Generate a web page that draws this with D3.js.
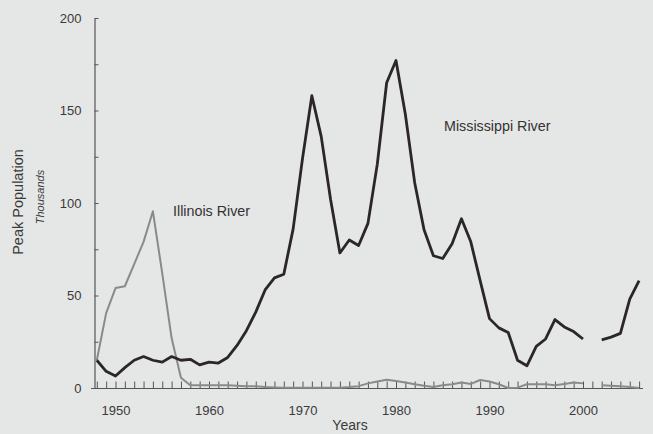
<!DOCTYPE html>
<html>
<head>
<meta charset="utf-8">
<script src="https://cdn.jsdelivr.net/npm/d3@7"></script>
<style>
  html, body { margin: 0; padding: 0; background: #e5e6e6; }
  svg { display: block; font-family: "Liberation Sans", Arial, sans-serif; }
</style>
</head>
<body>
<svg id="chart" width="653" height="434"></svg>
<script>
// ---- data ----
const years = d3.range(1948, 2007);
const mississippi = [
  15, 9, 6.5, 11, 15, 17, 15, 14, 17, 15,          // 1948-1957
  15.5, 12.5, 14, 13.5, 16.5, 23, 31, 41, 53, 59.5,  // 1958-1967
  61.5, 86, 124, 158, 136, 102, 73, 80, 77, 89,      // 1968-1977
  121, 165, 177, 148, 111, 85.5, 71.5, 70, 78, 91.5, // 1978-1987
  79, 58, 37.5, 32.5, 30, 15, 12, 22.5, 26.5, 37,    // 1988-1997
  33, 30.5, 26.5, null, 26, 27.5, 29.5, 48, 58       // 1998-2006
];
const illinois = [
  15, 40.5, 54, 55, 67, 79, 95.5, 62, 27, 5.5,       // 1948-1957
  1.5, 1.5, 1.5, 1.5, 1.5, 1.2, 1, 1, 0.5, 0.3,      // 1958-1967
  0.2, 0.2, 0.2, 0.2, 0.2, 0.2, 0.2, 0.5, 1, 2.5,    // 1968-1977
  3.5, 4.5, 3.8, 3, 2, 1.2, 0.5, 1.5, 2, 3,          // 1978-1987
  2.2, 4.3, 3.5, 2, 0, 0.2, 2, 2, 2, 1.5,            // 1988-1997
  2.2, 3, 2.5, null, 1.5, 1.2, 1, 0.5, 0             // 1998-2006
];
const yTicks = [0, 25, 50, 75, 100, 125, 150, 175, 200];
const yLabels = [0, 50, 100, 150, 200];
const xLabels = [1950, 1960, 1970, 1980, 1990, 2000];

// ---- chart ----
const svg = d3.select("#chart");
const x = d3.scaleLinear().domain([1950, 2000]).range([115.5, 583]);
const y = d3.scaleLinear().domain([0, 200]).range([388, 18]);

// y axis
const yAxis = d3.axisLeft(y)
  .tickValues(yTicks)
  .tickSize(-4)
  .tickSizeOuter(0)
  .tickPadding(13)
  .tickFormat(d => yLabels.includes(d) ? d : "");
const gy = svg.append("g").attr("transform", "translate(94.5,0)").call(yAxis);
gy.select(".domain").attr("stroke", "#555").attr("stroke-width", 1.2);
gy.selectAll(".tick line").attr("stroke", "#555");
gy.selectAll(".tick text").attr("fill", "#3a3a3a").style("font-size", "13px");

// x axis
const xAxis = d3.axisBottom(x)
  .tickValues(years)
  .tickSize(-7)
  .tickSizeOuter(0)
  .tickPadding(17)
  .tickFormat(d => xLabels.includes(d) ? d : "");
const gx = svg.append("g").attr("transform", "translate(0,388.5)").call(xAxis);
gx.select(".domain").remove();
gx.selectAll(".tick line").attr("stroke", "#555");
gx.selectAll(".tick text").attr("fill", "#3a3a3a").style("font-size", "13px");
gx.append("line")
  .attr("x1", 91).attr("x2", 643).attr("y1", 0).attr("y2", 0)
  .attr("stroke", "#555").attr("stroke-width", 1.2);

// lines
const line = d3.line()
  .defined(d => d[1] !== null)
  .x(d => x(d[0]))
  .y(d => y(d[1]));

svg.append("path")
  .datum(years.map((yr, i) => [yr, illinois[i]]))
  .attr("d", line)
  .attr("fill", "none")
  .attr("stroke", "#8a8a8a")
  .attr("stroke-width", 2)
  .attr("stroke-linejoin", "round");

svg.append("path")
  .datum(years.map((yr, i) => [yr, mississippi[i]]))
  .attr("d", line)
  .attr("fill", "none")
  .attr("stroke", "#2b2627")
  .attr("stroke-width", 2.8)
  .attr("stroke-linejoin", "round");

// labels
svg.append("text")
  .attr("x", 173).attr("y", 216)
  .attr("fill", "#333").style("font-size", "14.3px")
  .text("Illinois River");
svg.append("text")
  .attr("x", 444).attr("y", 131)
  .attr("fill", "#333").style("font-size", "14.3px")
  .text("Mississippi River");

svg.append("text")
  .attr("transform", "translate(23,202) rotate(-90)")
  .attr("text-anchor", "middle")
  .attr("fill", "#3a3a3a").style("font-size", "14.5px")
  .text("Peak Population");
svg.append("text")
  .attr("transform", "translate(44,197) rotate(-90)")
  .attr("text-anchor", "middle")
  .attr("fill", "#3a3a3a").style("font-size", "11px").style("font-style", "italic")
  .text("Thousands");

svg.append("text")
  .attr("x", 350).attr("y", 430)
  .attr("text-anchor", "middle")
  .attr("fill", "#3a3a3a").style("font-size", "14px")
  .text("Years");
</script>
</body>
</html>
